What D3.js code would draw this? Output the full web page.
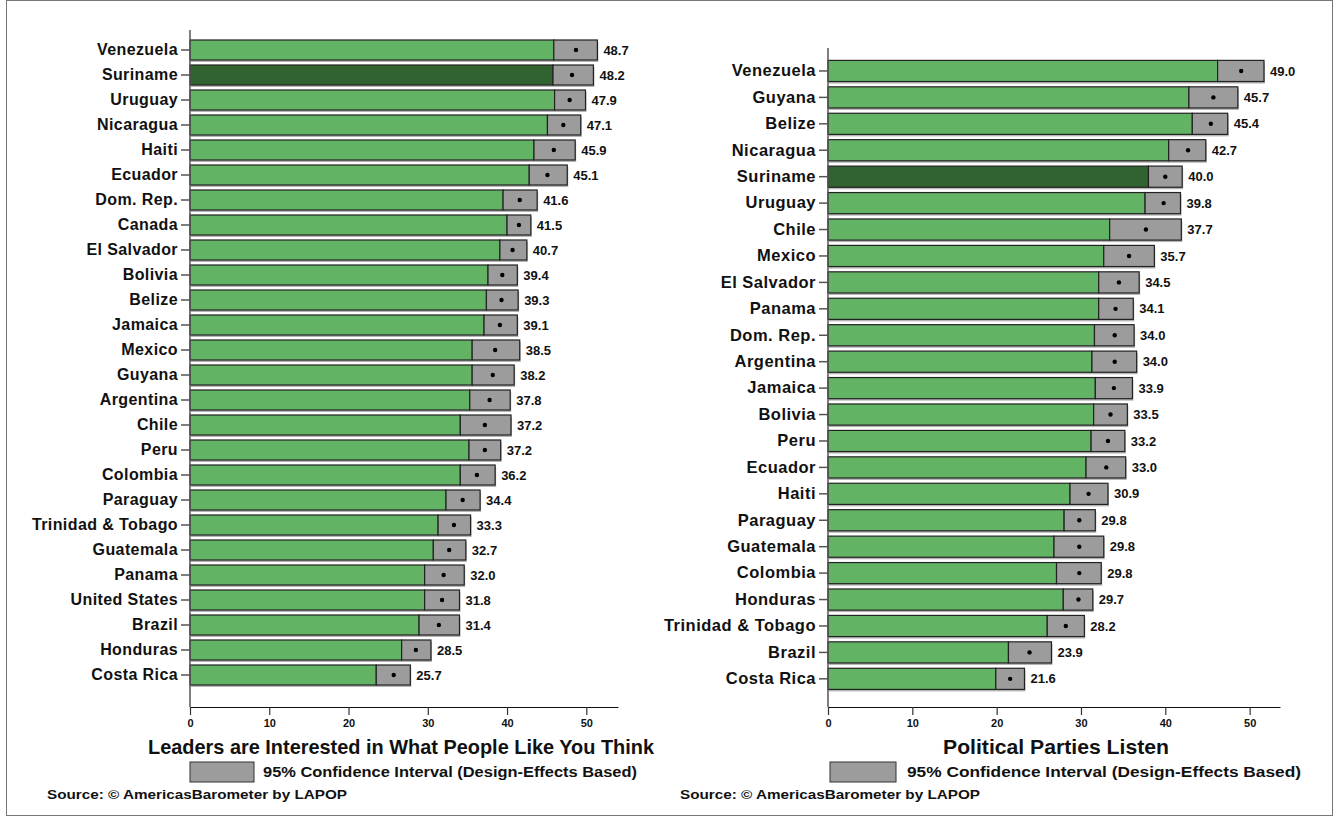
<!DOCTYPE html>
<html><head><meta charset="utf-8">
<script src="https://cdn.jsdelivr.net/npm/d3@7"></script>
<style>
html,body{margin:0;padding:0;background:#fff;}
svg{display:block;}
text{font-family:"Liberation Sans",Arial,Helvetica,sans-serif;font-weight:bold;fill:#111;}
</style></head>
<body>
<script>
// ---------- DATA ----------
const countriesA = ["Venezuela","Suriname","Uruguay","Nicaragua","Haiti","Ecuador","Dom. Rep.","Canada","El Salvador","Bolivia","Belize","Jamaica","Mexico","Guyana","Argentina","Chile","Peru","Colombia","Paraguay","Trinidad & Tobago","Guatemala","Panama","United States","Brazil","Honduras","Costa Rica"];
const meansA = [48.7,48.2,47.9,47.1,45.9,45.1,41.6,41.5,40.7,39.4,39.3,39.1,38.5,38.2,37.8,37.2,37.2,36.2,34.4,33.3,32.7,32.0,31.8,31.4,28.5,25.7];
const lowA  = [45.9,45.8,46.0,45.1,43.4,42.8,39.5,40.0,39.1,37.6,37.4,37.1,35.6,35.6,35.3,34.1,35.2,34.1,32.3,31.3,30.7,29.6,29.6,28.9,26.7,23.5];
const highA = [51.4,50.9,49.9,49.3,48.6,47.6,43.8,43.0,42.5,41.3,41.4,41.3,41.6,40.9,40.4,40.5,39.2,38.5,36.6,35.4,34.8,34.6,34.0,34.0,30.4,27.8];

const countriesB = ["Venezuela","Guyana","Belize","Nicaragua","Suriname","Uruguay","Chile","Mexico","El Salvador","Panama","Dom. Rep.","Argentina","Jamaica","Bolivia","Peru","Ecuador","Haiti","Paraguay","Guatemala","Colombia","Honduras","Trinidad & Tobago","Brazil","Costa Rica"];
const meansB = [49.0,45.7,45.4,42.7,40.0,39.8,37.7,35.7,34.5,34.1,34.0,34.0,33.9,33.5,33.2,33.0,30.9,29.8,29.8,29.8,29.7,28.2,23.9,21.6];
const lowB  = [46.2,42.8,43.2,40.4,38.0,37.6,33.4,32.7,32.1,32.1,31.6,31.3,31.7,31.5,31.2,30.6,28.7,28.0,26.8,27.1,27.9,26.0,21.4,19.9];
const highB = [51.7,48.6,47.4,44.8,42.0,41.8,41.9,38.7,36.9,36.2,36.3,36.6,36.1,35.5,35.2,35.3,33.2,31.7,32.7,32.4,31.4,30.4,26.5,23.3];

const tickValues = [0,10,20,30,40,50];
const highlight = "Suriname";
const titleA = "Leaders are Interested in What People Like You Think";
const titleB = "Political Parties Listen";
const legendText = "95% Confidence Interval (Design-Effects Based)";
const sourceText = "Source: \u00A9 AmericasBarometer by LAPOP";

// ---------- DRAW ----------
const W = 1333, H = 820;
const svg = d3.select("body").append("svg").attr("width", W).attr("height", H);
svg.append("rect").attr("x",6.5).attr("y",0.5).attr("width",W-7).attr("height",815)
  .attr("fill","none").attr("stroke","#777").attr("stroke-width",1);

const GREEN = "#63b365", DARK = "#316331", GRAY = "#9c9c9c";

function panel(cfg){
  const g = svg.append("g");
  const x = d3.scaleLinear().domain([0, cfg.xmax]).range([cfg.x0, cfg.x1]);
  const y = d3.scaleBand().domain(cfg.countries).range([cfg.y0, cfg.y1]).padding(0.2);
  const data = cfg.countries.map((c,i)=>({c, m:cfg.means[i], lo:cfg.low[i], hi:cfg.high[i]}));
  const bh = y.bandwidth();

  // shadows
  g.selectAll(".sh").data(data).join("rect")
    .attr("x", x(0)+1).attr("y", d=>y(d.c)+2)
    .attr("width", d=>x(d.hi)-x(0)).attr("height", bh)
    .attr("fill","#b5b5b5");
  // bars to lower bound
  g.selectAll(".bar").data(data).join("rect")
    .attr("x", x(0)).attr("y", d=>y(d.c))
    .attr("width", d=>x(d.lo)-x(0)).attr("height", bh)
    .attr("fill", d=>d.c===highlight?DARK:GREEN)
    .attr("stroke","#222").attr("stroke-width",1.2);
  // CI boxes
  g.selectAll(".ci").data(data).join("rect")
    .attr("x", d=>x(d.lo)).attr("y", d=>y(d.c))
    .attr("width", d=>x(d.hi)-x(d.lo)).attr("height", bh)
    .attr("fill", GRAY).attr("stroke","#222").attr("stroke-width",1.2);
  // mean dots
  g.selectAll(".dot").data(data).join("circle")
    .attr("cx", d=>x(d.m)).attr("cy", d=>y(d.c)+bh/2).attr("r",2.2).attr("fill","#000");
  // value labels
  g.selectAll(".val").data(data).join("text")
    .attr("x", d=>x(d.hi)+6).attr("y", d=>y(d.c)+bh/2).attr("dy","0.35em")
    .attr("font-size",13).text(d=>d.m.toFixed(1));

  // y axis
  const yAxis = g.append("g").attr("transform",`translate(${x(0)},0)`)
    .call(d3.axisLeft(y).tickSize(9).tickSizeOuter(0).tickPadding(3));
  yAxis.select(".domain").remove();
  yAxis.selectAll(".tick line").attr("stroke","#555").attr("stroke-width",1.5);
  yAxis.selectAll(".tick text").attr("font-size",cfg.labSize).attr("fill","#111")
    .style("letter-spacing", cfg.labSpace+"px")
    .style("font-family","'Liberation Sans',Arial,sans-serif").style("font-weight","bold");
  g.append("line").attr("x1",x(0)).attr("x2",x(0)).attr("y1",cfg.axTop).attr("y2",cfg.axY)
    .attr("stroke","#555").attr("stroke-width",1.5);

  // x axis
  const xAxis = g.append("g").attr("transform",`translate(0,${cfg.axY})`)
    .call(d3.axisBottom(x).tickValues(tickValues).tickSize(8).tickSizeOuter(0).tickPadding(4).tickFormat(d3.format("d")));
  xAxis.select(".domain").attr("stroke","#111").attr("stroke-width",1.2);
  xAxis.selectAll(".tick line").attr("stroke","#333").attr("stroke-width",1.2);
  xAxis.selectAll(".tick text").attr("font-size",11).attr("fill","#111")
    .style("font-family","'Liberation Sans',Arial,sans-serif").style("font-weight","bold");

  // title
  g.append("text").attr("x",cfg.titleX).attr("y",747).attr("dy","0.35em")
    .attr("text-anchor","middle").attr("font-size",20.5)
    .attr("textLength",cfg.titleW).attr("lengthAdjust","spacingAndGlyphs").text(cfg.title);
  // legend
  g.append("rect").attr("x",cfg.legX).attr("y",762).attr("width",cfg.legBox).attr("height",20)
    .attr("fill",GRAY).attr("stroke","#333").attr("stroke-width",1);
  g.append("text").attr("x",cfg.legTX).attr("y",772).attr("dy","0.35em")
    .attr("font-size",14.5).attr("textLength",cfg.legW).attr("lengthAdjust","spacingAndGlyphs").text(legendText);
  // source
  g.append("text").attr("x",cfg.srcX).attr("y",794).attr("dy","0.35em")
    .attr("font-size",13.5).attr("textLength",cfg.srcW).attr("lengthAdjust","spacingAndGlyphs").text(sourceText);
}

panel({countries:countriesA, means:meansA, low:lowA, high:highA,
  xmax:54, x0:190, x1:618, y0:35, y1:690, axTop:30, axY:707, labSize:16, labSpace:0.4,
  title:titleA, titleX:401, titleW:506, legX:190, legBox:64, legTX:263, legW:374, srcX:47, srcW:300});

panel({countries:countriesB, means:meansB, low:lowB, high:highB,
  xmax:53.6, x0:828, x1:1280, y0:55.1, y1:694.7, axTop:48, axY:707, labSize:16.5, labSpace:0.5,
  title:titleB, titleX:1056, titleW:226, legX:830, legBox:66, legTX:907, legW:394, srcX:680, srcW:300});
</script>
</body></html>
